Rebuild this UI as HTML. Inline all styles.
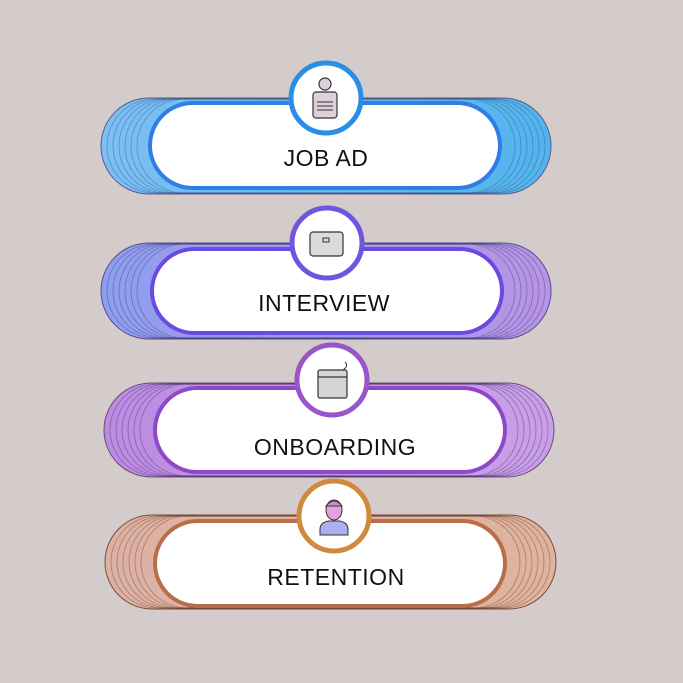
<!DOCTYPE html>
<html><head><meta charset="utf-8"><style>
html,body{margin:0;padding:0;background:#d4cccb;}
svg{display:block}
text{font-family:"Liberation Sans",sans-serif;font-size:23px;fill:#111;text-anchor:middle;letter-spacing:0.5px}
</style></head><body>
<svg width="683" height="683" viewBox="0 0 683 683" xmlns="http://www.w3.org/2000/svg">
<defs>
<linearGradient id="g1" x1="0" x2="1"><stop offset="0" stop-color="#7cbff3"/><stop offset="1" stop-color="#52b4ee"/></linearGradient>
<linearGradient id="g2" x1="0" x2="1"><stop offset="0" stop-color="#8e9ef0"/><stop offset="1" stop-color="#b894e4"/></linearGradient>
<linearGradient id="g3" x1="0" x2="1"><stop offset="0" stop-color="#bb8ce2"/><stop offset="1" stop-color="#c9a0e8"/></linearGradient>
<linearGradient id="g4" x1="0" x2="1"><stop offset="0" stop-color="#dcb2a4"/><stop offset="1" stop-color="#deb49e"/></linearGradient>
</defs>
<rect width="683" height="683" fill="#d4cccb"/>

<!-- Row 1 -->
<rect x="101" y="98" width="450" height="96" rx="48" fill="url(#g1)" stroke="#5a5a8a" stroke-width="1"/>
<g fill="none" stroke="#35507a" stroke-opacity="0.45" stroke-width="0.8">
<rect x="107" y="99" width="438" height="94" rx="47"/><rect x="113" y="99" width="426" height="94" rx="47"/><rect x="119" y="99" width="414" height="94" rx="47"/><rect x="125" y="99" width="402" height="94" rx="47"/><rect x="131" y="99" width="390" height="94" rx="47"/><rect x="137" y="99" width="378" height="94" rx="47"/></g>
<rect x="150" y="103" width="350" height="85" rx="42.5" fill="#fff" stroke="#2f7ee8" stroke-width="4"/>
<circle cx="326" cy="98" r="35" fill="#fff" stroke="#2a8de6" stroke-width="5"/>
<circle cx="325" cy="84" r="6" fill="#ddd2dc" stroke="#333" stroke-width="1.2"/>
<rect x="313" y="92" width="24" height="26" rx="3" fill="#ddd2dc" stroke="#333" stroke-width="1.2"/>
<path d="M317 102h16M317 106h16M317 110h16" stroke="#333" stroke-width="1"/>
<text x="326" y="166">JOB AD</text>

<!-- Row 2 -->
<rect x="101" y="243" width="450" height="96" rx="48" fill="url(#g2)" stroke="#5a4a8a" stroke-width="1"/>
<g fill="none" stroke="#3a3a7a" stroke-opacity="0.45" stroke-width="0.8">
<rect x="107" y="244" width="438" height="94" rx="47"/><rect x="113" y="244" width="426" height="94" rx="47"/><rect x="119" y="244" width="414" height="94" rx="47"/><rect x="125" y="244" width="402" height="94" rx="47"/><rect x="131" y="244" width="390" height="94" rx="47"/><rect x="137" y="244" width="378" height="94" rx="47"/></g>
<rect x="152" y="249" width="350" height="84" rx="42" fill="#fff" stroke="#6a4ae0" stroke-width="4"/>
<circle cx="327" cy="243" r="35" fill="#fff" stroke="#7055e0" stroke-width="5"/>
<rect x="310" y="232" width="33" height="24" rx="3" fill="#dcdada" stroke="#333" stroke-width="1.2"/>
<rect x="323" y="238" width="6" height="4" fill="none" stroke="#333" stroke-width="1"/>
<text x="324" y="311">INTERVIEW</text>

<!-- Row 3 -->
<rect x="104" y="383" width="450" height="94" rx="47" fill="url(#g3)" stroke="#6a4a7a" stroke-width="1"/>
<g fill="none" stroke="#4a2a6a" stroke-opacity="0.45" stroke-width="0.8">
<rect x="110" y="384" width="438" height="92" rx="46"/><rect x="116" y="384" width="426" height="92" rx="46"/><rect x="122" y="384" width="414" height="92" rx="46"/><rect x="128" y="384" width="402" height="92" rx="46"/><rect x="134" y="384" width="390" height="92" rx="46"/><rect x="140" y="384" width="378" height="92" rx="46"/></g>
<rect x="155" y="388" width="350" height="84" rx="42" fill="#fff" stroke="#9048c8" stroke-width="4"/>
<circle cx="332" cy="380" r="35" fill="#fff" stroke="#9a55c8" stroke-width="5"/>
<rect x="318" y="370" width="29" height="28" rx="2" fill="#d6d4d4" stroke="#333" stroke-width="1.2"/>
<path d="M318 377h29" stroke="#333" stroke-width="1.2"/>
<path d="M343 370q6-4 2-8" fill="none" stroke="#333" stroke-width="1"/>
<text x="335" y="455">ONBOARDING</text>

<!-- Row 4 -->
<rect x="105" y="515" width="451" height="94" rx="47" fill="url(#g4)" stroke="#7a4a3a" stroke-width="1"/>
<g fill="none" stroke="#6a3a2a" stroke-opacity="0.45" stroke-width="0.8">
<rect x="111" y="516" width="439" height="92" rx="46"/><rect x="117" y="516" width="427" height="92" rx="46"/><rect x="123" y="516" width="415" height="92" rx="46"/><rect x="129" y="516" width="403" height="92" rx="46"/><rect x="135" y="516" width="391" height="92" rx="46"/><rect x="141" y="516" width="379" height="92" rx="46"/></g>
<rect x="155" y="521" width="350" height="85" rx="42.5" fill="#fff" stroke="#b86e48" stroke-width="4"/>
<circle cx="334" cy="516" r="35" fill="#fff" stroke="#d08a40" stroke-width="5"/>
<path d="M320 535v-6q0-6 8-8h12q8 2 8 8v6z" fill="#aab0f0" stroke="#333" stroke-width="1"/>
<ellipse cx="334" cy="510" rx="8" ry="10" fill="#e6a0e0" stroke="#333" stroke-width="1"/>
<path d="M326 506q8-10 16 0z" fill="#c890d8" stroke="#333" stroke-width="1"/>
<text x="336" y="585">RETENTION</text>
</svg>
</body></html>
